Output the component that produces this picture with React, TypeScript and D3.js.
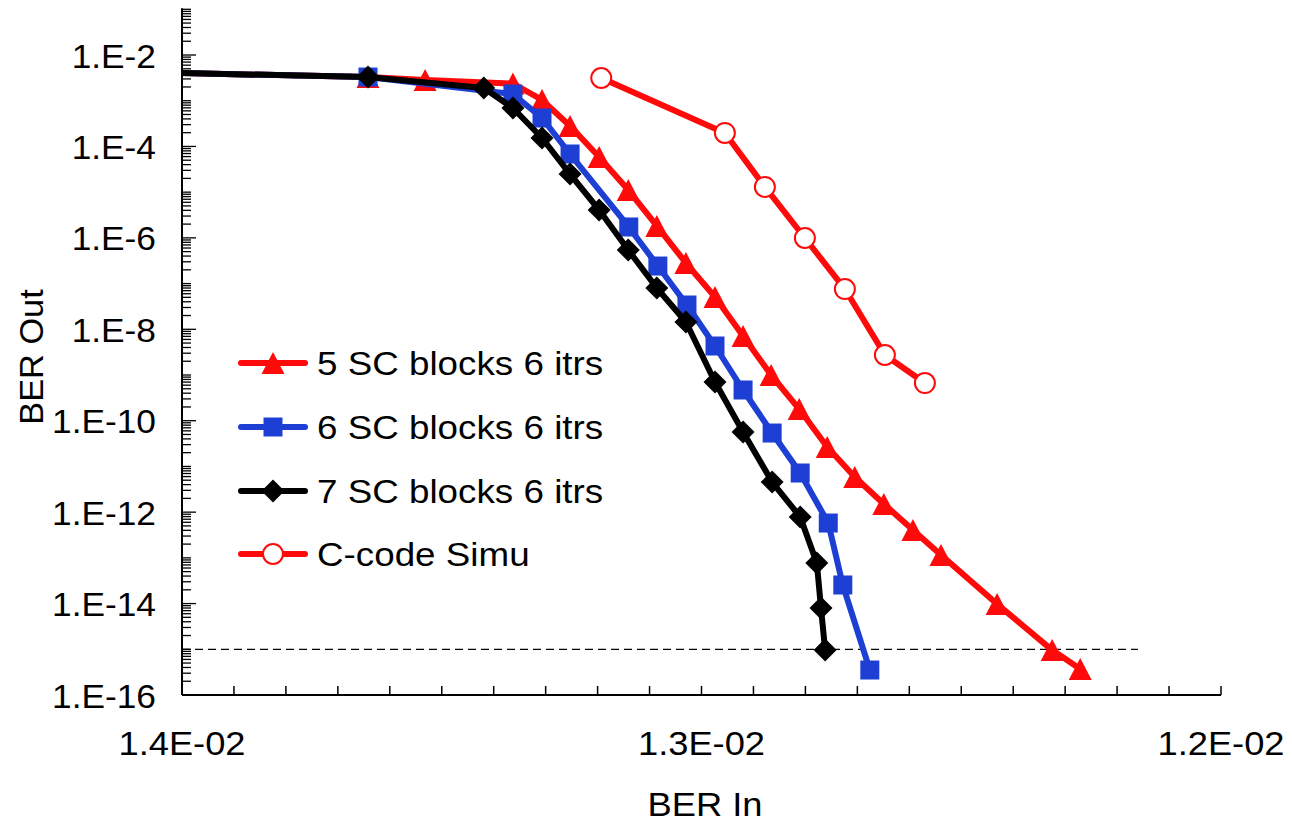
import React from "react";
import * as d3 from "d3";

// ---- data ----
const xTickValues = [0.014, 0.013, 0.012];
const xTickLabels = ["1.4E-02", "1.3E-02", "1.2E-02"];
const yTickExponents = [-2, -4, -6, -8, -10, -12, -14, -16];

const sc5In = [0.0142, 0.013642, 0.013532, 0.013363, 0.013307, 0.013253, 0.013197, 0.013141, 0.013086, 0.01303, 0.012974, 0.01292, 0.012866, 0.012812, 0.012758, 0.012705, 0.012649, 0.012593, 0.012539, 0.012431, 0.012325, 0.012271];
const sc5Out = [4.5e-3, 3.3e-3, 2.84e-3, 2.38e-3, 1.04e-3, 2.8e-4, 5.87e-5, 1.11e-5, 1.82e-6, 2.82e-7, 5.08e-8, 7.13e-9, 1.0e-9, 1.8e-10, 2.66e-11, 5.87e-12, 1.51e-12, 4.06e-13, 1.15e-13, 9.8e-15, 9.6e-16, 3.7e-16];

const sc6In = [0.0142, 0.013642, 0.013363, 0.013307, 0.013253, 0.01314, 0.013084, 0.013028, 0.012974, 0.01292, 0.012864, 0.01281, 0.012756, 0.012728, 0.012676];
const sc6Out = [4.5e-3, 3.3e-3, 1.4e-3, 4.19e-4, 6.83e-5, 1.73e-6, 2.42e-7, 3.4e-8, 4.31e-9, 4.7e-10, 5.38e-11, 7.18e-12, 5.78e-13, 2.55e-14, 3.52e-16];

const sc7In = [0.0142, 0.013642, 0.013419, 0.013363, 0.013307, 0.013253, 0.013197, 0.013141, 0.013086, 0.01303, 0.012974, 0.01292, 0.012864, 0.01281, 0.012778, 0.01277, 0.012762];
const sc7Out = [4.5e-3, 3.3e-3, 1.9e-3, 6.93e-4, 1.53e-4, 2.49e-5, 4.07e-6, 5.42e-7, 8.0e-8, 1.44e-8, 7.03e-10, 5.66e-11, 4.56e-12, 7.83e-13, 7.71e-14, 8.0e-15, 9.6e-16];

const cIn = [0.013193, 0.012955, 0.012878, 0.012801, 0.012724, 0.012647, 0.01257];
const cOut = [3.14e-3, 1.97e-4, 1.3e-5, 9.93e-7, 7.6e-8, 2.74e-9, 6.68e-10];

const thresholdY = 1e-15;
const thresholdXEnd = 0.01216;

const seriesNames = ["5 SC blocks 6 itrs", "6 SC blocks 6 itrs", "7 SC blocks 6 itrs", "C-code Simu"];

// ---- layout ----
const W = 1292;
const H = 822;
const left = 182;
const right = 1221;
const top = 9.3;
const bottom = 695;
const RED = "#FF0A0A";
const BLUE = "#1E3FD4";
const FONT = "Liberation Sans, Arial, sans-serif";
const FS = 33;

type Kind = "tri" | "sq" | "dia" | "circ";

const x = d3.scaleLinear().domain([0.014, 0.012]).range([left, right]);
const y = d3.scaleLog().domain([1e-16, 1e-1]).range([bottom, top]);

function Marker({ kind, cx, cy, color }: { kind: Kind; cx: number; cy: number; color: string }) {
  if (kind === "tri") {
    const s = 23;
    const h = 22;
    return <path d={`M${cx},${cy - h / 2} L${cx + s / 2},${cy + h / 2} L${cx - s / 2},${cy + h / 2} Z`} fill={color} />;
  }
  if (kind === "sq") {
    const s = 19;
    return <rect x={cx - s / 2} y={cy - s / 2} width={s} height={s} fill={color} />;
  }
  if (kind === "dia") {
    const r = 11.5;
    return <path d={`M${cx},${cy - r} L${cx + r},${cy} L${cx},${cy + r} L${cx - r},${cy} Z`} fill={color} />;
  }
  return <circle cx={cx} cy={cy} r={10} fill="#fff" stroke={color} strokeWidth={2} />;
}

function Series({ xs, ys, color, kind }: { xs: number[]; ys: number[]; color: string; kind: Kind }) {
  const pts: [number, number][] = xs.map((v, i) => [v, ys[i]]);
  const line = d3
    .line<[number, number]>()
    .x((d) => x(d[0]))
    .y((d) => y(d[1]));
  return (
    <g>
      <path d={line(pts) || ""} fill="none" stroke={color} strokeWidth={6} strokeLinejoin="round" clipPath="url(#plotClip)" />
      {pts
        .filter((d) => d[0] <= 0.014 && d[0] >= 0.012)
        .map((d, i) => (
          <Marker key={i} kind={kind} cx={x(d[0])} cy={y(d[1])} color={color} />
        ))}
    </g>
  );
}

export default function App() {
  // log minor ticks
  const yTicks: { v: number; major: boolean }[] = [];
  for (let e = -16; e <= -1; e++) {
    for (let m = 1; m <= 9; m++) {
      const v = m * Math.pow(10, e);
      if (v > 1e-1 * 1.0001) continue;
      yTicks.push({ v, major: m === 1 && e % 2 === 0 });
    }
  }
  const xTicks = d3.range(0, 21).map((i) => 0.014 - i * 0.0001);

  const legendItems: { name: string; color: string; kind: Kind }[] = [
    { name: seriesNames[0], color: RED, kind: "tri" },
    { name: seriesNames[1], color: BLUE, kind: "sq" },
    { name: seriesNames[2], color: "#000", kind: "dia" },
    { name: seriesNames[3], color: RED, kind: "circ" },
  ];
  const legendRows = [363, 427, 491, 554];

  return (
    <svg width={W} height={H} style={{ position: "absolute", left: 0, top: 0, background: "#fff" }} fontFamily={FONT}>
      <defs>
        <clipPath id="plotClip">
          <rect x={left} y={top} width={right - left} height={bottom - top} />
        </clipPath>
      </defs>
      <rect x={0} y={0} width={W} height={H} fill="#fff" />

      {/* threshold dashed line */}
      <line x1={x(0.014)} x2={x(thresholdXEnd)} y1={y(thresholdY)} y2={y(thresholdY)} stroke="#000" strokeWidth={1.3} strokeDasharray="8,5" />

      {/* y ticks */}
      {yTicks.map((t, i) => (
        <line key={i} x1={left} x2={left + (t.major ? 14 : 9)} y1={y(t.v)} y2={y(t.v)} stroke="#000" strokeWidth={1.3} />
      ))}
      {/* x ticks */}
      {xTicks.map((t, i) => (
        <line key={i} x1={x(t)} x2={x(t)} y1={bottom} y2={bottom - 9} stroke="#000" strokeWidth={1.5} />
      ))}
      {/* axes */}
      <line x1={left} x2={left} y1={top - 1} y2={bottom} stroke="#000" strokeWidth={2} />
      <line x1={left} x2={right} y1={bottom} y2={bottom} stroke="#000" strokeWidth={2} />

      {/* y tick labels */}
      {yTickExponents.map((e) => (
        <text key={e} transform={`translate(156,${y(Math.pow(10, e)) + 12.5}) scale(1.07,1)`} textAnchor="end" fontSize={FS} fill="#000">
          {`1.E${e}`}
        </text>
      ))}
      {/* x tick labels */}
      {xTickValues.map((v, i) => (
        <text key={v} transform={`translate(${x(v)},755) scale(1.1,1)`} textAnchor="middle" fontSize={FS} fill="#000">
          {xTickLabels[i]}
        </text>
      ))}

      {/* axis titles */}
      <text transform="translate(43,357) rotate(-90) scale(1.04,1)" textAnchor="middle" fontSize={FS} fill="#000">
        BER Out
      </text>
      <text transform="translate(705,816) scale(1.1,1)" textAnchor="middle" fontSize={FS} fill="#000">
        BER In
      </text>

      {/* series */}
      <Series xs={sc5In} ys={sc5Out} color={RED} kind="tri" />
      <Series xs={sc6In} ys={sc6Out} color={BLUE} kind="sq" />
      <Series xs={sc7In} ys={sc7Out} color="#000" kind="dia" />
      <Series xs={cIn} ys={cOut} color={RED} kind="circ" />

      {/* legend */}
      {legendItems.map((it, i) => (
        <g key={it.name}>
          <line x1={241} x2={305} y1={legendRows[i]} y2={legendRows[i]} stroke={it.color} strokeWidth={6} strokeLinecap="round" />
          <Marker kind={it.kind} cx={273} cy={legendRows[i]} color={it.color} />
          <text transform={`translate(317,${legendRows[i] + 12}) scale(1.115,1)`} fontSize={FS} fill="#000">
            {it.name}
          </text>
        </g>
      ))}
    </svg>
  );
}
